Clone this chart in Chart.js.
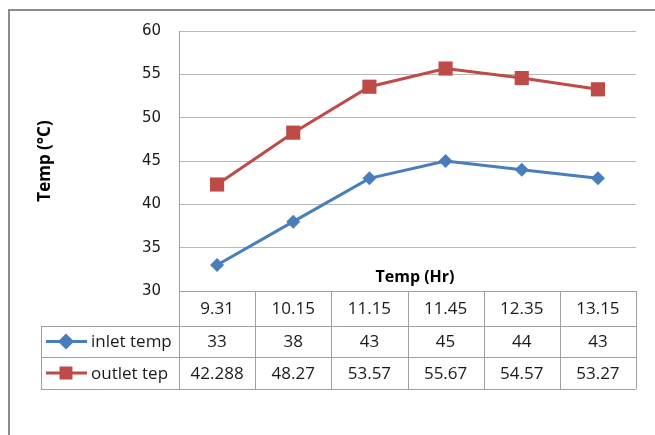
<!DOCTYPE html>
<html lang="en">
<head>
<meta charset="UTF-8">
<title>Temp chart</title>
<script src="https://cdn.jsdelivr.net/npm/chart.js"></script>
<style>
  body { margin: 0; background: #fff; }
  #box { width: 655px; height: 435px; }
</style>
</head>
<body>
<div id="box"><canvas id="grafico" width="655" height="435"></canvas></div>
<script>
// data
var horas = ['9.31', '10.15', '11.15', '11.45', '12.35', '13.15'];
var inletTemp = [33, 38, 43, 45, 44, 43];
var outletTemp = [42.288, 48.27, 53.57, 55.67, 54.57, 53.27];
var nomesSeries = ['inlet temp', 'outlet tep'];
var yTicks = [30, 35, 40, 45, 50, 55, 60];

var azul = '#4a7ebb';
var vermelho = '#be4b48';

// frame, x title and the data table under the plot
var tabelaPlugin = {
  id: 'tabela',
  afterDraw: function (chart) {
    var ctx = chart.ctx;
    var x = chart.scales.x;
    var area = chart.chartArea;
    var larg = x.width / horas.length;
    var topo = area.bottom;
    var linhas = [topo, topo + 35, topo + 66, topo + 98];
    var esq = 41;

    ctx.save();
    // outer frame
    ctx.strokeStyle = '#8c8c8c';
    ctx.lineWidth = 2;
    ctx.beginPath();
    ctx.moveTo(9, 436);
    ctx.lineTo(9, 10);
    ctx.lineTo(656, 10);
    ctx.stroke();

    // x title
    ctx.fillStyle = '#000';
    ctx.font = 'bold 16px "Open Sans"';
    ctx.textAlign = 'center';
    ctx.textBaseline = 'middle';
    ctx.fillText('Temp (Hr)', 415, 277);

    // grid of the table
    ctx.strokeStyle = '#a0a0a0';
    ctx.lineWidth = 1;
    ctx.beginPath();
    ctx.moveTo(area.left, linhas[0] + 0.5); ctx.lineTo(area.right, linhas[0] + 0.5);
    for (var r = 1; r < linhas.length; r++) {
      ctx.moveTo(esq, linhas[r] + 0.5); ctx.lineTo(area.right, linhas[r] + 0.5);
    }
    ctx.moveTo(esq + 0.5, linhas[1]); ctx.lineTo(esq + 0.5, linhas[3]);
    for (var i = 0; i <= horas.length; i++) {
      var cx = Math.round(area.left + i * larg) + 0.5;
      ctx.moveTo(cx, linhas[0]); ctx.lineTo(cx, linhas[3]);
    }
    ctx.stroke();

    // cell texts
    ctx.fillStyle = '#1a1a1a';
    ctx.font = '17px "Open Sans"';
    ctx.textAlign = 'center';
    var series = [inletTemp, outletTemp];
    horas.forEach(function (h, i) {
      var px = x.getPixelForValue(i);
      ctx.fillText(h, px, (linhas[0] + linhas[1]) / 2 + 1);
      series.forEach(function (s, k) {
        ctx.fillText(String(s[i]), px, (linhas[k + 1] + linhas[k + 2]) / 2 + 1);
      });
    });

    // legend column
    ctx.textAlign = 'left';
    chart.data.datasets.forEach(function (ds, k) {
      var cy = (linhas[k + 1] + linhas[k + 2]) / 2;
      ctx.strokeStyle = ds.borderColor;
      ctx.lineWidth = 3;
      ctx.beginPath();
      ctx.moveTo(46, cy); ctx.lineTo(87, cy);
      ctx.stroke();
      Chart.helpers.drawPoint(ctx, {
        pointStyle: ds.pointStyle,
        radius: k === 0 ? 6 : 7,
        borderWidth: 1
      }, 66, cy);
      ctx.fillStyle = ds.borderColor;
      ctx.strokeStyle = ds.borderColor;
      ctx.fill();
      ctx.fillStyle = '#1a1a1a';
      ctx.fillText(nomesSeries[k], 91, cy + 1);
    });
    ctx.restore();
  }
};

new Chart(document.getElementById('grafico').getContext('2d'), {
  type: 'line',
  data: {
    labels: horas,
    datasets: [{
      label: nomesSeries[0],
      data: inletTemp,
      borderColor: azul,
      backgroundColor: azul,
      borderWidth: 3,
      pointStyle: 'rectRot',
      pointRadius: 7,
      pointBorderWidth: 0
    }, {
      label: nomesSeries[1],
      data: outletTemp,
      borderColor: vermelho,
      backgroundColor: vermelho,
      borderWidth: 3,
      pointStyle: 'rect',
      pointRadius: 10,
      pointBorderWidth: 0
    }]
  },
  options: {
    responsive: false,
    animation: false,
    layout: { padding: { top: 31, right: 19, bottom: 144, left: 0 } },
    plugins: { legend: { display: false }, tooltip: { enabled: false } },
    scales: {
      x: {
        display: false,
        offset: true
      },
      y: {
        min: 30,
        max: 60,
        afterFit: function (s) { s.width = 179; },
        afterBuildTicks: function (s) { s.ticks = yTicks.map(function (v) { return { value: v }; }); },
        grid: { color: '#b8b8b8', drawTicks: false },
        border: { color: '#a0a0a0' },
        ticks: {
          padding: 18,
          color: '#1a1a1a',
          font: { family: 'DejaVu Sans', size: 15 }
        },
        title: {
          display: true,
          text: 'Temp (°C)',
          color: '#000',
          font: { family: 'Open Sans', size: 17, weight: 'bold' },
          padding: { top: 35 }
        }
      }
    }
  },
  plugins: [tabelaPlugin]
});
</script>
</body>
</html>
